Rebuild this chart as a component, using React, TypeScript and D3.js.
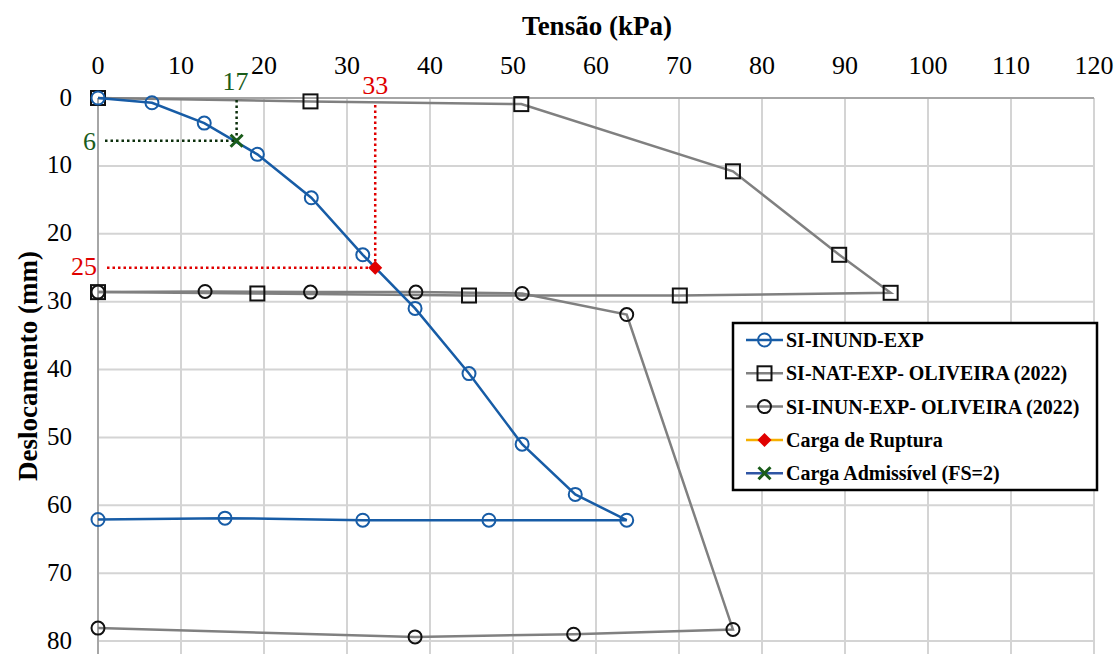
import React from "react";
import * as d3 from "d3";

const layout = {
  width: 1119,
  height: 654,
  left: 98,
  right: 1094,
  top: 98,
  bottom: 641,
  gridBottom: 654
};

// Tensão (kPa) / Deslocamento (mm)
const inundX = [0, 6.5, 12.8, 19.2, 25.7, 31.9, 38.2, 44.7, 51.1, 57.5, 63.7, 47.1, 31.9, 15.3, 0];
const inundY = [0, 0.7, 3.7, 8.3, 14.7, 23.1, 31.0, 40.6, 51.0, 58.4, 62.2, 62.2, 62.2, 61.9, 62.1];

const natX = [0, 25.6, 51.0, 76.5, 89.3, 95.5, 70.1, 44.7, 19.2, 0];
const natY = [0, 0.5, 0.9, 10.8, 23.1, 28.7, 29.1, 29.1, 28.8, 28.6];

const inunX = [0, 12.9, 25.6, 38.3, 51.1, 63.7, 76.5, 57.3, 38.2, 0];
const inunY = [28.6, 28.5, 28.6, 28.6, 28.8, 31.9, 78.3, 79.0, 79.4, 78.1];

const rupturaX = [33.4];
const rupturaY = [25];
const rupturaLabels = ["33", "25"];
const admX = [16.7];
const admY = [6.3];
const admLabels = ["17", "6"];

const xTicks = [0, 10, 20, 30, 40, 50, 60, 70, 80, 90, 100, 110, 120];
const yTicks = [0, 10, 20, 30, 40, 50, 60, 70, 80];

const legendLabels = [
  "SI-INUND-EXP",
  "SI-NAT-EXP- OLIVEIRA (2022)",
  "SI-INUN-EXP- OLIVEIRA (2022)",
  "Carga de Ruptura",
  "Carga Admissível (FS=2)"
];

const BLUE = "#175ca6";
const GREY = "#808080";
const RED = "#e00000";
const GREEN = "#1a5c1a";
const FONT = "Liberation Serif, Times New Roman, DejaVu Serif, serif";

const zip = (xs: number[], ys: number[]) => xs.map((x, i) => [x, ys[i]] as [number, number]);

const Circle = ({ x, y, color }: { x: number; y: number; color: string }) => (
  <circle cx={x} cy={y} r={6.5} fill="none" stroke={color} strokeWidth={2} />
);
const Square = ({ x, y }: { x: number; y: number }) => (
  <rect x={x - 7} y={y - 7} width={14} height={14} fill="none" stroke="#111" strokeWidth={2} />
);
const Diamond = ({ x, y }: { x: number; y: number }) => (
  <path d={`M${x},${y - 7}L${x + 7},${y}L${x},${y + 7}L${x - 7},${y}Z`} fill={RED} />
);
const Cross = ({ x, y }: { x: number; y: number }) => (
  <path d={`M${x - 6},${y - 6}L${x + 6},${y + 6}M${x - 6},${y + 6}L${x + 6},${y - 6}`} stroke={GREEN} strokeWidth={3} />
);

const T = (props: any) => <text {...props} style={{ fontFamily: FONT }} />;

export default function App() {
  const xScale = d3.scaleLinear().domain([0, 120]).range([layout.left, layout.right]);
  const yScale = d3.scaleLinear().domain([0, 80]).range([layout.top, layout.bottom]);
  const line = d3
    .line<[number, number]>()
    .x(d => xScale(d[0]))
    .y(d => yScale(d[1]));

  const inund = zip(inundX, inundY);
  const nat = zip(natX, natY);
  const inun = zip(inunX, inunY);

  const rx = xScale(rupturaX[0]);
  const ry = yScale(rupturaY[0]);
  const ax = xScale(admX[0]);
  const ay = yScale(admY[0]);

  const legendTop = 323;
  const rowGap = 33.3;

  return (
    <svg
      width={layout.width}
      height={layout.height}
      style={{ position: "absolute", left: 0, top: 0, background: "#fff", fontFamily: FONT }}
    >
      <rect width={layout.width} height={layout.height} fill="#fff" />

      {/* grid */}
      {xTicks.map(t => (
        <line key={"gx" + t} x1={xScale(t)} x2={xScale(t)} y1={layout.top} y2={layout.gridBottom} stroke="#d4d4d4" strokeWidth={2} />
      ))}
      {yTicks.map(t => (
        <line key={"gy" + t} x1={layout.left} x2={layout.right} y1={yScale(t)} y2={yScale(t)} stroke="#d4d4d4" strokeWidth={2} />
      ))}
      <line x1={layout.left} x2={layout.right} y1={layout.top} y2={layout.top} stroke="#a6a6a6" strokeWidth={2} />
      <line x1={layout.left} x2={layout.left} y1={layout.top} y2={layout.gridBottom} stroke="#a6a6a6" strokeWidth={2} />

      {/* tick labels */}
      {xTicks.map(t => (
        <T key={"tx" + t} x={xScale(t)} y={74} fontSize={26} textAnchor="middle" fill="#000">
          {t}
        </T>
      ))}
      {yTicks.map(t => (
        <T key={"ty" + t} x={72} y={yScale(t) + 7.5} fontSize={25} textAnchor="end" fill="#000">
          {t}
        </T>
      ))}

      <T x={597} y={35} fontSize={27} fontWeight="bold" textAnchor="middle">
        Tensão (kPa)
      </T>
      <T transform="translate(37,366) rotate(-90)" fontSize={27} fontWeight="bold" textAnchor="middle">
        Deslocamento (mm)
      </T>

      {/* series */}
      <path d={line(inun) || ""} fill="none" stroke={GREY} strokeWidth={2.5} />
      <path d={line(nat) || ""} fill="none" stroke={GREY} strokeWidth={2.5} />
      {inun.map((d, i) => (
        <Circle key={"ic" + i} x={xScale(d[0])} y={yScale(d[1])} color="#111" />
      ))}
      {nat.map((d, i) => (
        <Square key={"ns" + i} x={xScale(d[0])} y={yScale(d[1])} />
      ))}
      <path d={line(inund) || ""} fill="none" stroke={BLUE} strokeWidth={2.5} />
      {inund.map((d, i) => (
        <Circle key={"bc" + i} x={xScale(d[0])} y={yScale(d[1])} color={BLUE} />
      ))}

      {/* guides */}
      <line x1={rx} x2={rx} y1={layout.top + 7} y2={ry} stroke={RED} strokeWidth={2.5} strokeDasharray="2.5,3" />
      <line x1={layout.left + 9} x2={rx} y1={ry} y2={ry} stroke={RED} strokeWidth={2.5} strokeDasharray="2.5,3" />
      <line x1={ax} x2={ax} y1={layout.top + 2} y2={ay} stroke="#0b2e0b" strokeWidth={2.5} strokeDasharray="2.5,3" />
      <line x1={layout.left + 7} x2={ax} y1={ay} y2={ay} stroke="#0b2e0b" strokeWidth={2.5} strokeDasharray="2.5,3" />
      <Diamond x={rx} y={ry} />
      <Cross x={ax} y={ay} />

      <T x={rx} y={94} fontSize={26} textAnchor="middle" fill={RED}>
        {rupturaLabels[0]}
      </T>
      <T x={97} y={ry + 7} fontSize={26} textAnchor="end" fill={RED}>
        {rupturaLabels[1]}
      </T>
      <T x={ax - 1} y={90} fontSize={26} textAnchor="middle" fill={GREEN}>
        {admLabels[0]}
      </T>
      <T x={96} y={ay + 9} fontSize={26} textAnchor="end" fill={GREEN}>
        {admLabels[1]}
      </T>

      {/* legend */}
      <rect x={733} y={legendTop} width={364} height={167} fill="#fff" stroke="#000" strokeWidth={2.5} />
      {legendLabels.map((label, i) => {
        const cy = legendTop + 17 + i * rowGap;
        const lineColor = [BLUE, GREY, GREY, "#f5b000", "#2f55a4"][i];
        return (
          <g key={label}>
            <line x1={746} x2={783} y1={cy} y2={cy} stroke={lineColor} strokeWidth={2.5} />
            {i === 0 && <Circle x={764.5} y={cy} color={BLUE} />}
            {i === 1 && <Square x={764.5} y={cy} />}
            {i === 2 && <Circle x={764.5} y={cy} color="#111" />}
            {i === 3 && <Diamond x={764.5} y={cy} />}
            {i === 4 && <Cross x={764.5} y={cy} />}
            <T x={786} y={cy + 7} fontSize={20} fontWeight="bold" fill="#000">
              {label}
            </T>
          </g>
        );
      })}
    </svg>
  );
}
